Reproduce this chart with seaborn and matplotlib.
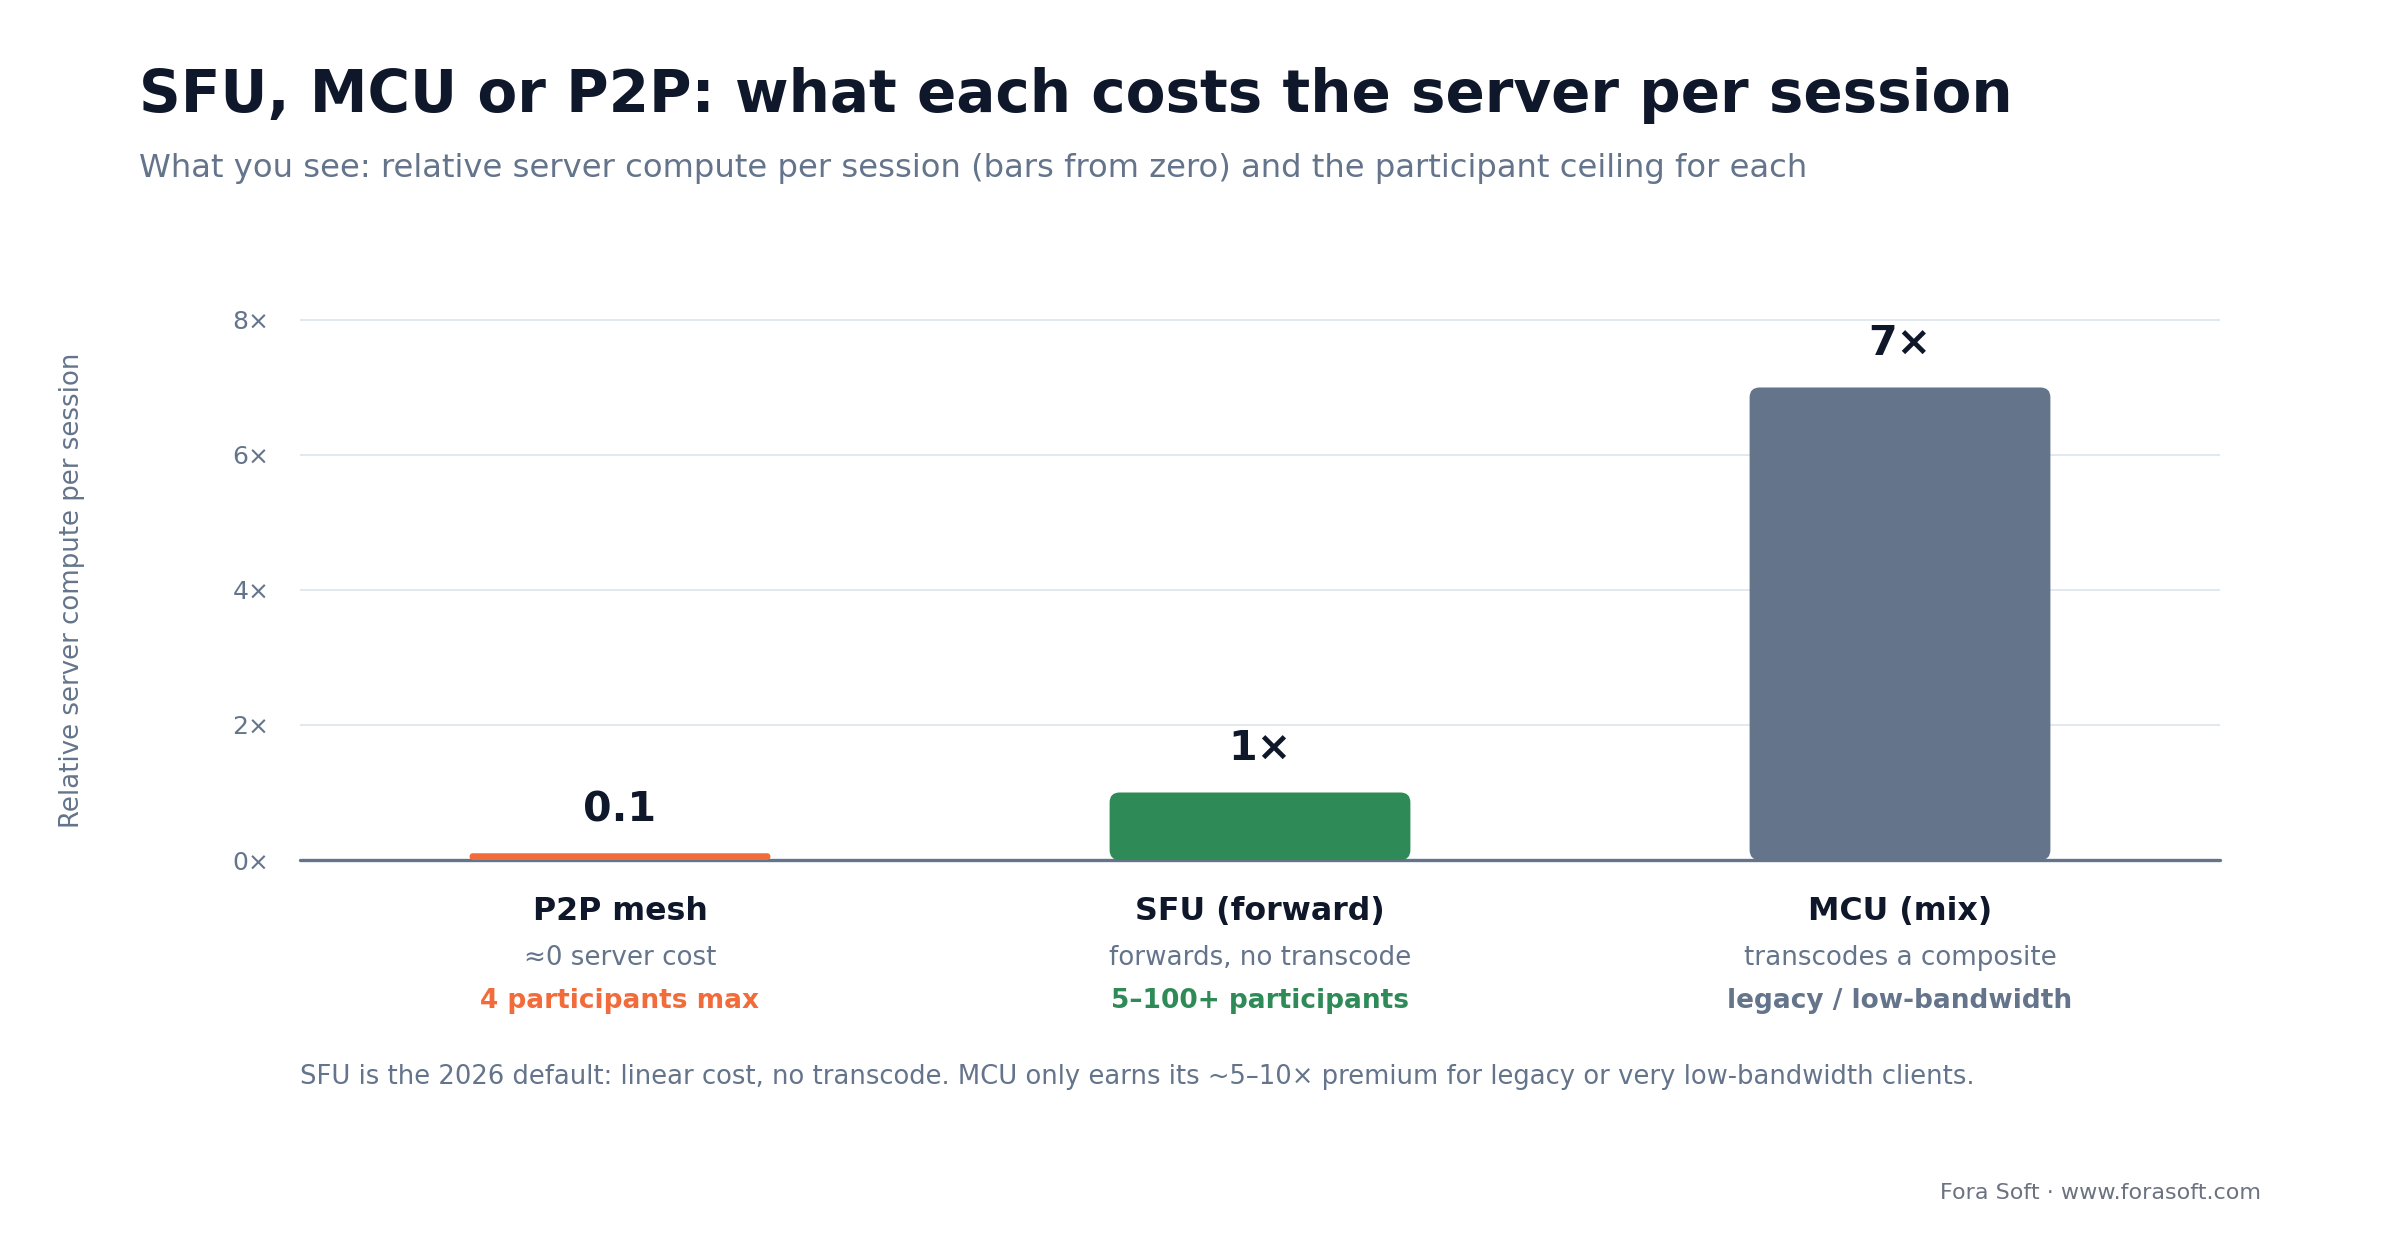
import matplotlib
matplotlib.use("Agg")
import matplotlib.pyplot as plt
from matplotlib.patches import FancyBboxPatch
import seaborn as sns
import pandas as pd

# Dados do gráfico
categories = ["P2P mesh", "SFU (forward)", "MCU (mix)"]
compute = [0.1, 1, 7]
value_labels = ["0.1", "1×", "7×"]
descriptions = ["≈0 server cost", "forwards, no transcode", "transcodes a composite"]
ceilings = ["4 participants max", "5–100+ participants", "legacy / low-bandwidth"]
colors = ["#F26B3A", "#2E8B57", "#64748B"]
yticks = [0, 2, 4, 6, 8]

INK = "#0F172A"
MUTED = "#64748B"
GRID = "#E2E8F0"

sns.set_style("white")
plt.rcParams["font.family"] = ["DejaVu Sans"]

df = pd.DataFrame({"arch": categories, "compute": compute})

fig = plt.figure(figsize=(12, 6.2), dpi=200)
ax = fig.add_axes([0.125, 1 - 860 / 1240, 0.8, 543.4 / 1240])

sns.barplot(data=df, x="arch", y="compute", hue="arch", palette=colors,
            saturation=1, width=0.47, legend=False, ax=ax, zorder=3)

ax.set_xlim(-0.5, 2.5)
ax.set_ylim(0, 8.05)

# Trocar as barras por retângulos arredondados
fig.canvas.draw()
px_x = ax.transData.transform((1, 0))[0] - ax.transData.transform((0, 0))[0]
px_y = ax.transData.transform((0, 1))[1] - ax.transData.transform((0, 0))[1]
for patch in list(ax.patches):
    x0, y0 = patch.get_x(), patch.get_y()
    w, h = patch.get_width(), patch.get_height()
    r_px = min(10, h * px_y / 2)
    rx = r_px / px_x
    ry = r_px / px_y
    rounded = FancyBboxPatch((x0, y0), w, h,
                             boxstyle=f"round,pad=0,rounding_size={rx}",
                             mutation_aspect=ry / rx,
                             facecolor=patch.get_facecolor(), edgecolor="none",
                             zorder=3, clip_on=False)
    patch.set_visible(False)
    ax.add_patch(rounded)

# Eixos e grade
for s in ax.spines.values():
    s.set_visible(False)
ax.set_yticks(yticks)
ax.set_yticklabels([f"{v}×" for v in yticks])
ax.tick_params(axis="y", length=0, pad=11, labelsize=9, labelcolor=MUTED)
ax.set_xticks([])
ax.set_xlabel("")
ax.set_ylabel("")
ax.yaxis.grid(True, color=GRID, lw=0.7, zorder=0)
ax.set_axisbelow(True)
ax.axhline(0, color=MUTED, lw=1.2, zorder=2, clip_on=False)

# Rótulos dos valores
for i, (v, lab) in enumerate(zip(compute, value_labels)):
    ax.annotate(lab, (i, v), xytext=(0, 15.5), textcoords="offset points",
                ha="center", va="center", fontsize=14.8, fontweight="bold", color=INK)

# Rótulos das categorias
tr = ax.get_xaxis_transform()
for i, (name, desc, ceil, c) in enumerate(zip(categories, descriptions, ceilings, colors)):
    ax.text(i, (860 - 911) / 540, name, transform=tr, ha="center", va="center",
            fontsize=11.4, fontweight="bold", color=INK)
    ax.text(i, (860 - 957) / 540, desc, transform=tr, ha="center", va="center",
            fontsize=9.4, color=MUTED)
    ax.text(i, (860 - 1000) / 540, ceil, transform=tr, ha="center", va="center",
            fontsize=9.5, fontweight="bold", color=c)

# Títulos e notas
fig.text(139 / 2400, 1 - 112 / 1240, "SFU, MCU or P2P: what each costs the server per session",
         fontsize=20.9, fontweight="bold", color=INK, va="baseline")
fig.text(139 / 2400, 1 - 177 / 1240,
         "What you see: relative server compute per session (bars from zero) and the participant ceiling for each",
         fontsize=11.6, color=MUTED, va="baseline")
fig.text(72 / 2400, 1 - 590 / 1240, "Relative server compute per session", rotation=90,
         ha="center", va="center", fontsize=9.35, color=MUTED)
fig.text(300 / 2400, 1 - 1077 / 1240,
         "SFU is the 2026 default: linear cost, no transcode. MCU only earns its ~5–10× premium for legacy or very low-bandwidth clients.",
         fontsize=9.3, color=MUTED, va="center")
fig.text(2261 / 2400, 1 - 1193 / 1240, "Fora Soft · www.forasoft.com",
         fontsize=8, color="#6B7280", ha="right", va="center")

plt.savefig("out.png", dpi=200, facecolor="white")
